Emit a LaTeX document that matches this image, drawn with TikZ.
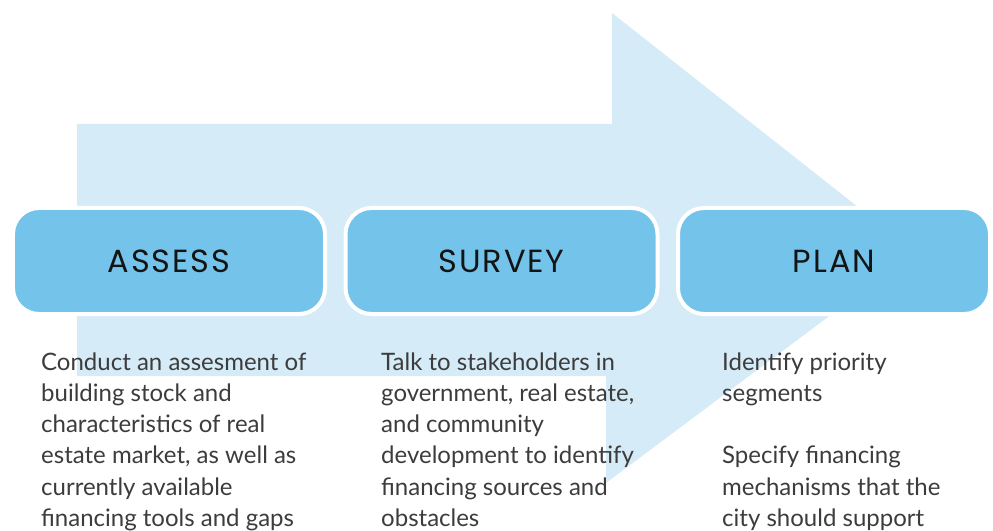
\documentclass[tikz,border=0pt]{standalone}
\usepackage{fontspec}
\newfontfamily\headfont[LetterSpace=6]{Poppins}
\newfontfamily\bodyfont{Lato}
\definecolor{arrowblue}{RGB}{213,235,247}
\definecolor{boxblue}{RGB}{116,195,235}
\definecolor{bodygray}{RGB}{60,60,60}
\definecolor{headblack}{RGB}{20,20,20}
\tikzset{
  stagebox/.style={rectangle, rounded corners=26bp, fill=boxblue, draw=white, line width=4bp,
    minimum width=312bp, minimum height=106bp, inner sep=0pt,
    font=\headfont\fontsize{32bp}{36bp}\selectfont, text=headblack},
  desc/.style={anchor=north west, align=left, inner sep=0pt,
    font=\bodyfont\fontsize{24bp}{31.2bp}\selectfont, text=bodygray}
}
\begin{document}
\begin{tikzpicture}[x=1bp, y=-1bp]
\useasboundingbox (0,0) rectangle (993,531);
% big background arrow
\fill[arrowblue] (77,124) -- (612,124) -- (612,13) -- (915,252) -- (606,483) -- (606,376) -- (77,376) -- cycle;
% stage boxes
\node[stagebox] (assess) at (169,261) {ASSESS};
\node[stagebox] (survey) at (501.5,261) {SURVEY};
\node[stagebox] (plan) at (834,261) {PLAN};
% descriptions
\node[desc] (d1) at (41,352.5) {Conduct an assesment of\\building stock and\\characteristics of real\\estate market, as well as\\currently available\\financing tools and gaps};
\node[desc] (d2) at (381,352.5) {Talk to stakeholders in\\government, real estate,\\and community\\development to identify\\financing sources and\\obstacles};
\node[desc] (d3) at (722,352.5) {Identify priority\\segments\\[31.2bp]Specify financing\\mechanisms that the\\city should support};
\end{tikzpicture}
\end{document}
